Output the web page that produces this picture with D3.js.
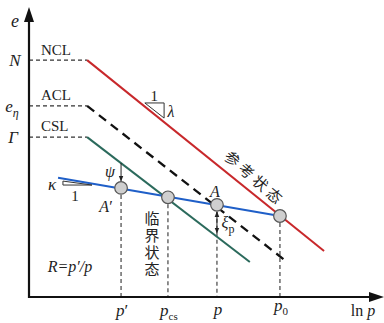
<!DOCTYPE html>
<html lang="zh">
<head>
<meta charset="UTF-8">
<title>e - ln p</title>
<style>
  body{margin:0;background:#fff;}
  svg{display:block;}
  .serif{font-family:"Liberation Serif","DejaVu Serif",serif;}
  .cjk{font-family:"Noto Sans CJK SC",sans-serif;}
</style>
</head>
<body>
<div class="container"></div>
<script src="https://cdn.jsdelivr.net/npm/d3@7/dist/d3.min.js"></script>
<script>
// values in (ln p, e)
const lineNames = ["NCL", "ACL", "CSL"]
const lineStart = [[1.66, 6.58], [1.66, 5.31], [1.66, 4.44]]
const lineEnd = [[8.43, 1.28], [7.34, 1.0], [6.31, 0.97]]
const kappaLine = [[0.83, 3.31], [7.17, 2.25]]
const pointNames = ["A'", "cs", "A", "p0"]
const pointLnp = [2.63, 3.97, 5.37, 7.17]
const pointE = [3.03, 2.77, 2.56, 2.25]
const yTickLabels = ["N", "eη", "Γ"]
const xTickLabels = ["p'", "pcs", "p", "p0"]

const W = 384, H = 323
const x = d3.scaleLinear().domain([0, 10]).range([29, 379])
const y = d3.scaleLinear().domain([0, 8]).range([297, 9])

const svg = d3.select(".container").append("svg")
  .attr("width", W).attr("height", H)

const colors = {NCL: "#c8282b", ACL: "#111", CSL: "#2b6a5c", kappa: "#1f5fc8"}

// horizontal dashed leaders to the e axis
svg.selectAll("line.lead").data(lineStart).join("line")
  .attr("class", "lead")
  .attr("x1", x(0)).attr("x2", d => x(d[0]))
  .attr("y1", d => y(d[1])).attr("y2", d => y(d[1]))
  .attr("stroke", "#333").attr("stroke-width", 1.1)
  .attr("stroke-dasharray", "4,3")

// vertical dashed lines from points to ln p axis
svg.selectAll("line.drop").data(pointLnp).join("line")
  .attr("class", "drop")
  .attr("x1", d => x(d)).attr("x2", d => x(d))
  .attr("y1", (d, i) => y(pointE[i])).attr("y2", y(0))
  .attr("stroke", "#333").attr("stroke-width", 1.1)
  .attr("stroke-dasharray", "4,3")

// the three lines
svg.selectAll("line.main").data(lineNames).join("line")
  .attr("class", "main")
  .attr("x1", (d, i) => x(lineStart[i][0])).attr("y1", (d, i) => y(lineStart[i][1]))
  .attr("x2", (d, i) => x(lineEnd[i][0])).attr("y2", (d, i) => y(lineEnd[i][1]))
  .attr("stroke", d => colors[d])
  .attr("stroke-width", d => d == "ACL" ? 2.3 : 2)
  .attr("stroke-dasharray", d => d == "ACL" ? "9,6" : null)

// blue line
svg.append("line")
  .attr("x1", x(kappaLine[0][0])).attr("y1", y(kappaLine[0][1]))
  .attr("x2", x(kappaLine[1][0])).attr("y2", y(kappaLine[1][1]))
  .attr("stroke", colors.kappa).attr("stroke-width", 2)

// slope triangles
const tri = (pts) => svg.append("path")
  .attr("d", d3.line()(pts.map(p => [x(p[0]), y(p[1])])) + "Z")
  .attr("fill", "none").attr("stroke", "#333").attr("stroke-width", 1)
tri([[3.31, 5.39], [3.86, 5.39], [3.86, 4.97]])
tri([[0.97, 3.22], [0.97, 3.11], [1.8, 3.11]])

// arrows psi and xi
const defs = svg.append("defs")
defs.append("marker").attr("id", "ah")
  .attr("viewBox", "0 0 10 10").attr("refX", 9).attr("refY", 5)
  .attr("markerWidth", 6).attr("markerHeight", 6).attr("orient", "auto-start-reverse")
  .append("path").attr("d", "M0,1L10,5L0,9Z").attr("fill", "#222")

svg.append("line")
  .attr("x1", x(pointLnp[0])).attr("x2", x(pointLnp[0]))
  .attr("y1", y(3.72)).attr("y2", y(pointE[0]) - 7)
  .attr("stroke", "#222").attr("stroke-width", 1)
  .attr("marker-end", "url(#ah)")
svg.append("line")
  .attr("x1", x(pointLnp[2])).attr("x2", x(pointLnp[2]))
  .attr("y1", y(pointE[2]) + 7).attr("y2", y(1.78))
  .attr("stroke", "#222").attr("stroke-width", 1)
  .attr("marker-start", "url(#ah)").attr("marker-end", "url(#ah)")

// points
svg.selectAll("circle").data(pointLnp).join("circle")
  .attr("cx", d => x(d)).attr("cy", (d, i) => y(pointE[i]))
  .attr("r", 6.3).attr("fill", "#cfcfcf").attr("stroke", "#555").attr("stroke-width", 1.2)

// axes
svg.append("line").attr("x1", x(0)).attr("x2", x(0)).attr("y1", y(0) + 1).attr("y2", 18)
  .attr("stroke", "#111").attr("stroke-width", 2.2)
svg.append("line").attr("x1", x(0) - 1).attr("x2", 372).attr("y1", y(0)).attr("y2", y(0))
  .attr("stroke", "#111").attr("stroke-width", 2.2)
svg.append("path").attr("d", `M${x(0)},7L${x(0) + 5},22L${x(0) - 5},22Z`).attr("fill", "#111")
svg.append("path").attr("d", `M384,${y(0)}L369,${y(0) - 5}L369,${y(0) + 5}Z`).attr("fill", "#111")

// texts
const txt = (tx, ty, size, anchor, italic) => svg.append("text").attr("class", "serif")
  .attr("x", tx).attr("y", ty).attr("font-size", size)
  .attr("text-anchor", anchor || "middle")
  .attr("font-style", italic ? "italic" : null).attr("fill", "#222")

txt(15, 27, 18, "middle", true).text("e")

// e-axis labels
const yl = [[15, 66], [12, 104], [13, 152]]
yTickLabels.forEach((lab, i) => {
  const t = txt(yl[i][0], y(lineStart[i][1]) + 6, 17, "middle", true)
  if (lab.length > 1) {
    t.append("tspan").text(lab[0])
    t.append("tspan").attr("font-size", 12).attr("dy", 5).text(lab.slice(1))
  } else t.text(lab)
})

// line names
const nameY = [55, 100, 131]
lineNames.forEach((n, i) => txt(41, nameY[i], 15, "start").text(n))

// ln p axis labels
const xly = [316, 316, 315, 311]
xTickLabels.forEach((lab, i) => {
  const t = txt(x(pointLnp[i]) + 1, xly[i], 17, "middle", true)
  t.append("tspan").text("p")
  if (lab[1] == "'") t.append("tspan").attr("font-style", "normal").text("′")
  else if (lab.length > 1) t.append("tspan").attr("font-style", "normal").attr("font-size", 11).attr("dy", 4).text(lab.slice(1))
})
const ln = txt(363, 316, 16, "middle")
ln.append("tspan").text("ln ")
ln.append("tspan").attr("font-style", "italic").text("p")

txt(70, 272, 16, "middle", true).text("R=p′/p")

// slope labels
txt(x(3.58), 101, 15).text("1")
txt(171, 117, 16, "middle", true).text("λ")
txt(52, 190, 17, "middle", true).text("κ")
txt(75, 201, 15).text("1")
txt(110, 177, 16, "middle", true).text("ψ")

// point labels
const pa = txt(106, 212, 16, "middle", true)
pa.append("tspan").text("A")
pa.append("tspan").attr("font-style", "normal").text("′")
txt(215, 197, 16, "middle", true).text("A")
const xi = txt(228, 228, 16, "middle", true)
xi.append("tspan").text("ξ")
xi.append("tspan").attr("font-style", "normal").attr("font-size", 12).attr("dy", 5).text("p")

// chinese labels
svg.append("text").attr("class", "cjk")
  .attr("x", 152).attr("y", 211)
  .attr("writing-mode", "vertical-rl").attr("letter-spacing", 2)
  .attr("font-size", 15).attr("fill", "#222")
  .text("临界状态")

const ref = "参考状态".split("")
svg.selectAll("text.ref").data(ref).join("text")
  .attr("class", "cjk ref")
  .attr("transform", (d, i) => `translate(${233 + i * 14},${158 + i * 12.3}) rotate(41)`)
  .attr("font-size", 15).attr("text-anchor", "middle").attr("dominant-baseline", "central")
  .attr("fill", "#222")
  .text(d => d)
</script>
</body>
</html>
